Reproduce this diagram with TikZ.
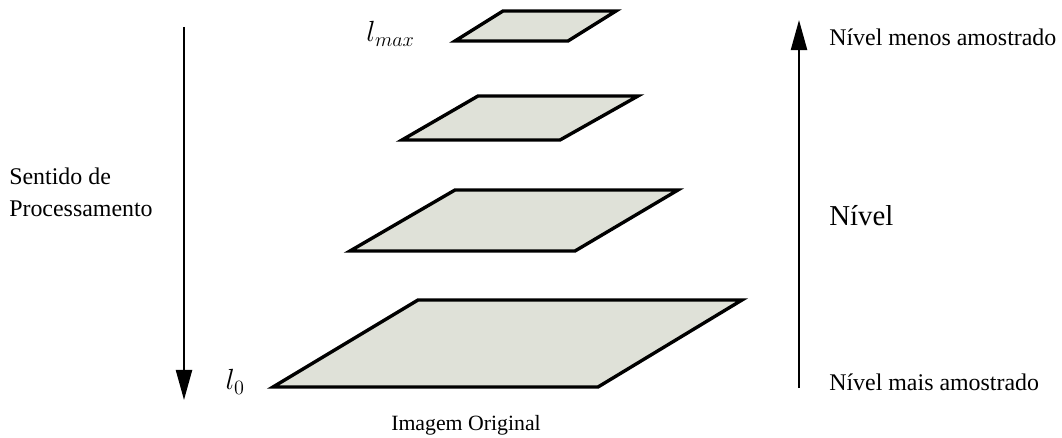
\documentclass[tikz,border=0pt]{standalone}
\usepackage{fontspec}
\setmainfont{Liberation Serif}
\usepackage{tikz}
\usetikzlibrary{positioning, arrows.meta, calc}
\definecolor{layerfill}{HTML}{DFE1D8}

\begin{document}
\begin{tikzpicture}[
    x=0.025cm, y=-0.025cm,
    layer/.style={draw=black, line width=2.4pt, fill=layerfill, line join=miter},
    arrow/.style={line width=1.6pt, -{Triangle[length=0.75cm, width=0.4cm]}},
    label/.style={font=\fontsize{17}{22.7}\selectfont, text=black, inner sep=0pt, align=left},
    mathlabel/.style={font=\fontsize{20}{24}\selectfont, text=black, inner sep=0pt},
    small/.style={font=\fontsize{15.5}{19}\selectfont, text=black, inner sep=0pt}
]
\useasboundingbox (0,0) rectangle (1062,438);

% Pyramid levels (bottom to top)
\draw[layer] (273,387) coordinate (lvl0) -- (598,387) -- (742,300) -- (418,300) -- cycle;
\draw[layer] (350,251) coordinate (lvl1) -- (575,251) -- (678,190) -- (455,190) -- cycle;
\draw[layer] (402,140) coordinate (lvl2) -- (560,140) -- (638,96) -- (478,96) -- cycle;
\draw[layer] (455,41) coordinate (lvl3) -- (568,41) -- (616,11) -- (503,11) -- cycle;

% Level labels
\node[mathlabel, anchor=east] (lzero) at (245,382) {$l_0$};
\node[mathlabel, anchor=east] (lmax) at (415,34) {$l_{max}$};
\node[small] (orig) at (466,425) {Imagem Original};

% Processing direction (left)
\coordinate (proc_top) at (184,27);
\coordinate (proc_bot) at (184,400);
\draw[arrow] (proc_top) -- (proc_bot);
\node[label, anchor=west] (proc) at (9,192) {Sentido de\\Processamento};

% Level axis (right)
\coordinate (axis_bot) at (799,388);
\coordinate (axis_top) at (799,20);
\draw[arrow] (axis_bot) -- (axis_top);
\node[label, anchor=west] (less) at (829,37) {Nível menos amostrado};
\node[label, anchor=west, font=\fontsize{20.5}{24}\selectfont] (nivel) at (829,216) {Nível};
\node[label, anchor=west] (more) at (829,382) {Nível mais amostrado};

\end{tikzpicture}
\end{document}
